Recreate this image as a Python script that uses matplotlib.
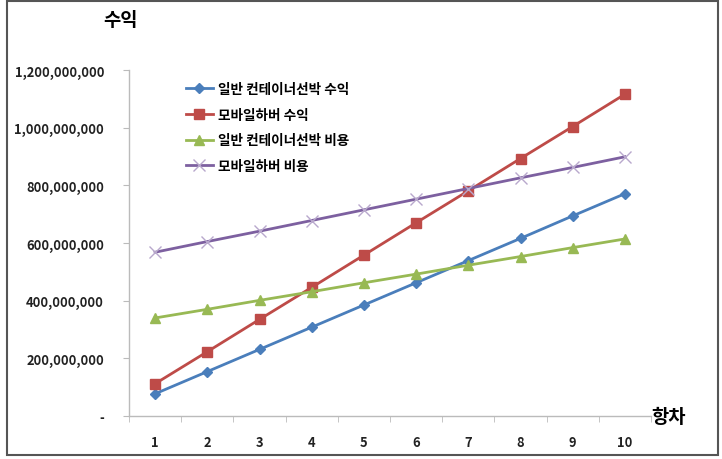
import numpy as np
import matplotlib
matplotlib.use('Agg')
import matplotlib.pyplot as plt
from matplotlib.patches import Rectangle
from matplotlib.ticker import FuncFormatter

plt.rcParams['font.family'] = ['Noto Sans CJK KR', 'DejaVu Sans']

# Data
voyages = [1, 2, 3, 4, 5, 6, 7, 8, 9, 10]
general_revenue = [77e6, 154e6, 231e6, 308e6, 385e6, 462e6, 539e6, 616e6, 694e6, 771e6]
mobile_revenue = [112e6, 223e6, 335e6, 446e6, 558e6, 670e6, 781e6, 893e6, 1004e6, 1116e6]
general_cost = [340e6, 370e6, 401e6, 431e6, 462e6, 492e6, 523e6, 553e6, 584e6, 614e6]
mobile_cost = [568e6, 605e6, 641e6, 678e6, 715e6, 752e6, 789e6, 826e6, 862e6, 899e6]

labels = ['일반 컨테이너선박 수익', '모바일하버 수익', '일반 컨테이너선박 비용', '모바일하버 비용']

fig = plt.figure(figsize=(7.22, 4.6), dpi=100)
ax = fig.add_axes([129 / 722, 1 - 417 / 460, (651 - 129) / 722, (417 - 71) / 460])

ax.plot(voyages, general_revenue, color='#4A7EBB', lw=2, marker='D', ms=5, label=labels[0])
ax.plot(voyages, mobile_revenue, color='#BE4B48', lw=2, marker='s', ms=7, label=labels[1])
ax.plot(voyages, general_cost, color='#98B954', lw=2, marker='^', ms=6.5, label=labels[2])
ax.plot(voyages, mobile_cost, color='#7D60A0', lw=2, marker='x', ms=8, mew=1,
        mec='#B8A8CC', label=labels[3])

ax.set_xlim(0.5, 10.5)
ax.set_ylim(0, 1.2e9)
ax.set_yticks(np.arange(0, 1.2e9 + 1, 2e8))
ax.yaxis.set_major_formatter(FuncFormatter(lambda v, p: '-' if v == 0 else f'{int(v):,}'))
ax.set_xticks(voyages)
ax.set_xticks(np.arange(0.5, 10.6, 1), minor=True)

for s in ['top', 'right']:
    ax.spines[s].set_visible(False)
for s in ['left', 'bottom']:
    ax.spines[s].set_color('#BBBBBB')
    ax.spines[s].set_linewidth(1)

ax.tick_params(axis='y', length=4, color='#BBBBBB', labelsize=9.3, labelcolor='#222222', pad=14)
ax.tick_params(axis='x', which='major', length=0, labelsize=9.3, labelcolor='#222222', pad=14)
ax.tick_params(axis='x', which='minor', length=4, color='#BBBBBB')
for t in ax.get_xticklabels() + ax.get_yticklabels():
    t.set_fontweight('bold')

leg = ax.legend(loc='upper left', bbox_to_anchor=(0.085, 1.0), frameon=False,
                prop={'size': 9.8, 'weight': 'bold'}, handlelength=2.0, labelspacing=0.85,
                handletextpad=0.4)

fig.text(120 / 722, 1 - 20 / 460, '수익', ha='center', va='center', fontsize=13.5, fontweight='bold')
fig.text(669 / 722, 1 - 418 / 460, '항차', ha='center', va='center', fontsize=13.5, fontweight='bold')

fig.patches.append(Rectangle((7 / 722, 4 / 460), 711 / 722, 454 / 460, transform=fig.transFigure,
                             fill=False, edgecolor='#555555', lw=1.5))

fig.savefig('out.png', dpi=100)
